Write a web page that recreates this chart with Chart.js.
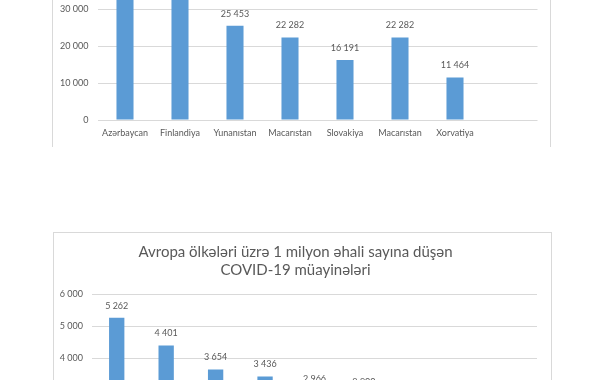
<!DOCTYPE html>
<html>
<head>
<meta charset="utf-8">
<script src="https://cdn.jsdelivr.net/npm/chart.js@4/dist/chart.umd.min.js"></script>
<style>
  html, body { margin:0; padding:0; background:#fff; width:600px; height:380px; overflow:hidden; position:relative; }
  .frame1 { position:absolute; left:52px; top:-20px; width:497px; height:167px; border-left:1px solid #d9d9d9; border-right:1px solid #d9d9d9; }
  .frame2 { position:absolute; left:53px; top:232px; width:497px; height:300px; border:1px solid #d9d9d9; }
  .box { position:absolute; }
</style>
</head>
<body>
<div class="frame1"></div>
<div class="frame2"></div>
<div class="box" id="b1" style="left:53px; top:-60px; width:497px; height:206px;"><canvas id="c1"></canvas></div>
<div class="box" id="b2" style="left:54px; top:233px; width:496px; height:280px;"><canvas id="c2"></canvas></div>
<script>
// ---- Top chart data ----
const topCategories = ['Azərbaycan', 'Finlandiya', 'Yunanıstan', 'Macarıstan', 'Slovakiya', 'Macarıstan', 'Xorvatiya', ''];
const topValues = [36000, 33500, 25453, 22282, 16191, 22282, 11464, null];
const topTicks = [0, 10000, 20000, 30000, 40000];

// ---- Bottom chart data ----
const bottomTitle = ['Avropa ölkələri üzrə 1 milyon əhali sayına düşən', 'COVID-19 müayinələri'];
const bottomCategories = ['Azərbaycan', 'Finlandiya', 'Yunanıstan', 'Macarıstan', 'Slovakiya', 'Xorvatiya', 'Rumıniya', 'Bolqarıstan', 'Ukrayna'];
const bottomValues = [5262, 4401, 3654, 3436, 2966, 2900, 2500, 2200, 1900];
const bottomTicks = [0, 1000, 2000, 3000, 4000, 5000, 6000];

const FONT = 'Lato, "Open Sans", sans-serif';
const TXT = '#595959';
const GRID = '#d9d9d9';
const BAR = '#5b9bd5';

function fmt(v) { return String(Math.round(v)).replace(/\B(?=(\d{3})+(?!\d))/g, ' '); }

const labelPlugin = {
  id: 'valLabels',
  afterDatasetsDraw(chart) {
    const ctx = chart.ctx;
    const meta = chart.getDatasetMeta(0);
    const data = chart.data.datasets[0].data;
    ctx.save();
    ctx.font = '9px ' + FONT;
    ctx.fillStyle = TXT;
    ctx.textAlign = 'center';
    ctx.textBaseline = 'middle';
    meta.data.forEach((el, i) => {
      if (data[i] == null) return;
      ctx.fillText(fmt(data[i]), el.x, el.y - 12);
    });
    ctx.restore();
  }
};

function makeChart(id, cats, vals, ticks, yWidth, opts) {
  return new Chart(document.getElementById(id), {
    type: 'bar',
    data: { labels: cats, datasets: [{ data: vals, backgroundColor: BAR, borderWidth: 0, categoryPercentage: 1, barPercentage: 0.31 }] },
    options: {
      responsive: true, maintainAspectRatio: false, animation: false,
      layout: { padding: opts.padding },
      plugins: { legend: { display: false }, tooltip: { enabled: false }, title: opts.title || { display: false } },
      scales: {
        x: {
          grid: { display: false, drawTicks: false },
          border: { display: false },
          ticks: { color: TXT, font: { family: FONT, size: 9 }, padding: 8, maxRotation: 0, autoSkip: false },
          afterFit(s) { s.height = opts.xHeight; }
        },
        y: {
          min: ticks[0], max: ticks[ticks.length - 1],
          afterBuildTicks(s) { s.ticks = ticks.map(v => ({ value: v })); },
          grid: { color: GRID, lineWidth: 1, drawTicks: false },
          border: { display: false },
          ticks: { color: TXT, font: { family: FONT, size: 9 }, padding: 9, callback: v => fmt(v) },
          afterFit(s) { s.width = yWidth; }
        }
      }
    },
    plugins: [labelPlugin]
  });
}

makeChart('c1', topCategories, topValues, topTicks, 44.5, { padding: { top: 32, right: 12.5, bottom: 6, left: 0 }, xHeight: 20 });

makeChart('c2', bottomCategories, bottomValues, bottomTicks, 38, {
  padding: { top: 0, right: 13, bottom: 6, left: 0 }, xHeight: 20,
  title: { display: true, text: bottomTitle, color: TXT, font: { family: FONT, size: 15, weight: 'normal', lineHeight: 1.2 }, padding: { top: 10, bottom: 15 } }
});
</script>
</body>
</html>
